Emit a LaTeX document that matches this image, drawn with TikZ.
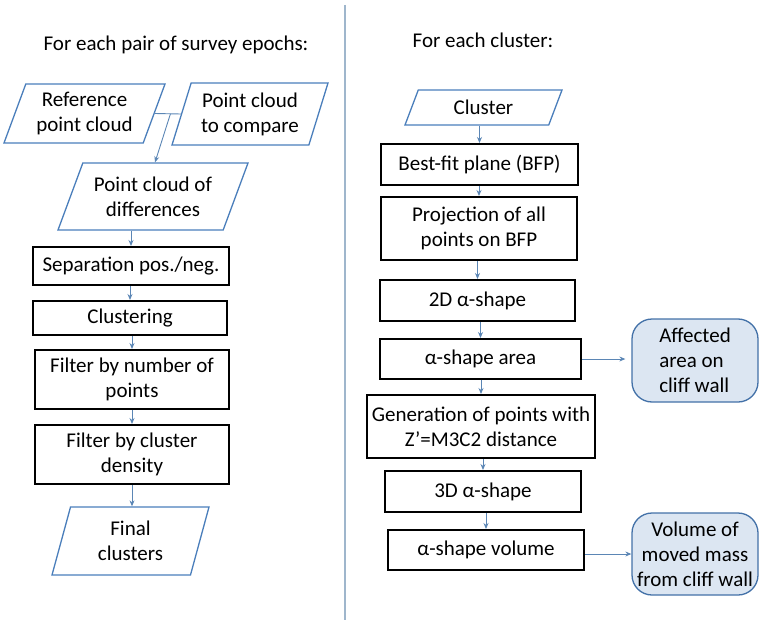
\documentclass[tikz,border=0pt]{standalone}
\usepackage{fontspec}
\setmainfont{Carlito}
\usetikzlibrary{shapes.geometric,arrows.meta}
\definecolor{ioblue}{HTML}{4A7EBB}
\definecolor{arrowblue}{HTML}{5B86B5}
\definecolor{resultfill}{HTML}{DCE6F2}
\definecolor{divider}{HTML}{9FB6CC}
\tikzset{
	proc/.style={draw=black, line width=2pt, align=center, inner sep=1pt},
	io/.style={trapezium, trapezium stretches body, trapezium left angle=#1, trapezium right angle=180-#1,
		draw=ioblue, line width=1.3pt, align=center, inner sep=0pt},
	result/.style={draw=ioblue!90!black, fill=resultfill, line width=1.3pt, rounded corners=20pt, inner sep=0pt},
	arr/.style={draw=arrowblue, line width=0.9pt, -{Stealth[length=6pt,width=5pt]}},
	link/.style={draw=arrowblue, line width=0.9pt}
}

\begin{document}
\begin{tikzpicture}[x=1pt, y=-1pt, every node/.style={font=\fontsize{21}{25}\selectfont}]
		\useasboundingbox (0,0) rectangle (760,623);
		\draw[divider, line width=1.5pt] (345,5) -- (345,620);

		% pair of epochs
		\node (lefttitle) at (176,45) {For each pair of survey epochs:};
		\node[io=63, minimum width=161pt, minimum height=59pt] (refcloud) at (84.5,113.5) {Reference\\point cloud};
		\node[io=66, minimum width=156pt, minimum height=62pt] (cmpcloud) at (250,114) {Point cloud\\to compare};
		\node[io=58, minimum width=190pt, minimum height=67pt] (diffcloud) at (153,196.5) {Point cloud of\\differences};
		\node[proc, minimum width=196pt, minimum height=38pt] (sep) at (131,266) {Separation pos./neg.};
		\node[proc, minimum width=194pt, minimum height=34pt] (clus) at (130,318) {Clustering};
		\node[proc, minimum width=194pt, minimum height=59pt] (fnum) at (132,379.5) {Filter by number of\\points};
		\node[proc, minimum width=194pt, minimum height=59pt] (fdens) at (132,454.5) {Filter by cluster\\density};
		\node[io=65, minimum width=157pt, minimum height=68pt] (final) at (130.5,541) {Final\\clusters};

		\draw[link] (refcloud.east) -- coordinate[pos=0.6] (join) (cmpcloud.west);
		\draw[arr] (join) -- ([xshift=2pt]diffcloud.north);
		\foreach \a/\b in {diffcloud/sep, sep/clus, clus/fnum, fnum/fdens}
			\draw[arr] (\b.north |- \a.south) -- (\b.north);
		\draw[arr] (fdens.south) -- (fdens.south |- final.north);

		% each cluster
		\node (righttitle) at (483,40) {For each cluster:};
		\node[io=48, minimum width=157pt, minimum height=35pt] (cluster) at (483.5,107.5) {Cluster};
		\node[proc, minimum width=197pt, minimum height=41pt] (bfp) at (479.5,164.5) {Best-fit plane (BFP)};
		\node[proc, minimum width=196pt, minimum height=63pt] (proj) at (479,228.5) {Projection of all\\points on BFP};
		\node[proc, minimum width=195pt, minimum height=41pt] (atwo) at (477.5,300.5) {2D α-shape};
		\node[proc, minimum width=201pt, minimum height=40pt] (area) at (480.5,359) {α-shape area};
		\node[proc, minimum width=228pt, minimum height=63pt] (gen) at (481,426.5) {Generation of points with\\Z’=M3C2 distance};
		\node[proc, minimum width=196pt, minimum height=41pt] (athree) at (483,491.5) {3D α-shape};
		\node[proc, minimum width=196pt, minimum height=40pt] (vol) at (486,550) {α-shape volume};
		\node[result, align=left, minimum width=126pt, minimum height=83pt] (affected) at (695,360.5) {Affected\\area on\\cliff wall};
		\node[result, align=center, minimum width=126pt, minimum height=82pt] (volume) at (695,554) {Volume of\\moved mass\\from cliff wall};

		\foreach \a/\b in {cluster/bfp, bfp/proj, proj/atwo, atwo/area, area/gen, gen/athree, athree/vol}
			\draw[arr] (\b.north |- \a.south) -- (\b.north);
		\draw[arr, shorten >=6pt] (area.east) -- (area.east -| affected.west);
		\draw[arr] (volume.west -| vol.east) -- (volume.west);
	\end{tikzpicture}
\end{document}
